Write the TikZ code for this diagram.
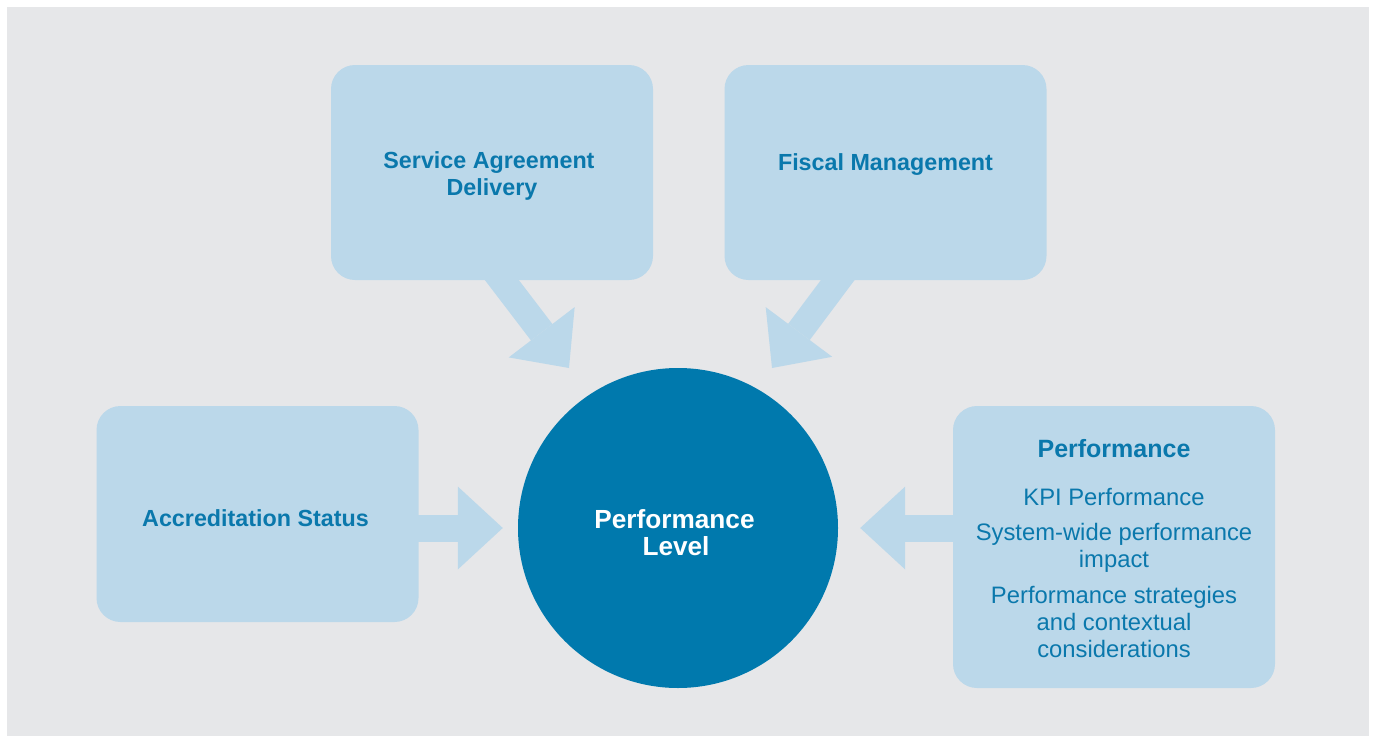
\documentclass[tikz,border=0pt]{standalone}
\usepackage{fontspec}
\setmainfont{Liberation Sans}
\usetikzlibrary{arrows.meta}
\pgfdeclarelayer{bglayer}
\pgfdeclarelayer{arrowlayer}
\pgfsetlayers{bglayer,arrowlayer,main}
\definecolor{bgray}{HTML}{E6E7E9}
\definecolor{lblue}{HTML}{BBD8EA}
\definecolor{dblue}{HTML}{0079AD}
\definecolor{tblue}{HTML}{0A78AC}
\begin{document}
\begin{tikzpicture}[x=1pt,y=-1pt,
  box/.style={rectangle, rounded corners=24pt, fill=lblue, inner sep=0pt, minimum width=322pt},
  head/.style={font=\fontsize{23.3}{28}\selectfont\bfseries, text=tblue, anchor=base, inner sep=0pt},
  whitehead/.style={font=\fontsize{26.2}{30}\selectfont\bfseries, text=white, anchor=base, inner sep=0pt},
  body/.style={font=\fontsize{23.8}{27}\selectfont, text=tblue, anchor=base, inner sep=0pt},
  flow/.style={line width=27pt, draw=lblue, -{Triangle[width=83pt,length=45pt,line width=0pt,fill=lblue]}}]
\useasboundingbox (0,0) rectangle (1374,736);
\begin{pgfonlayer}{bglayer}
\fill[bgray] (7,7) rectangle (1369,736);
\end{pgfonlayer}

% boxes
\node[box, minimum height=215pt] (sad) at (492,172.5) {};
\node[box, minimum height=215pt] (fm) at (885.5,172.5) {};
\node[box, minimum height=216pt] (acc) at (257.5,514) {};
\node[box, minimum height=282pt] (perf) at (1114,547) {};
\node[circle, fill=dblue, minimum size=320pt, inner sep=0pt] (circ) at (678,528) {};

% texts
\node[head] (sad1) at (489,168) {Service Agreement};
\node[head] (sad2) at (492,195) {Delivery};
\node[head] (fm1) at (885.5,170) {Fiscal Management};
\node[head] (acc1) at (255.5,526) {Accreditation Status};
\node[whitehead] (pl1) at (674.5,528) {Performance};
\node[whitehead] (pl2) at (676,555) {Level};
\node[head, font=\fontsize{25}{29}\selectfont\bfseries] (ph) at (1114,457) {Performance};
\node[body] (p1) at (1114,505) {KPI Performance};
\node[body] (p2) at (1114,540) {System-wide performance};
\node[body] (p3) at (1114,567) {impact};
\node[body] (p4) at (1114,603) {Performance strategies};
\node[body] (p5) at (1114,630) {and contextual};
\node[body] (p6) at (1114,657) {considerations};

% connectors
\coordinate (sadtail) at (493.4,269);
\coordinate (sadtip) at (569,368);
\coordinate (fmtail) at (846,269);
\coordinate (fmtip) at (772,368);
\begin{pgfonlayer}{arrowlayer}
\draw[flow] (sadtail) -- (sadtip);
\draw[flow] (fmtail) -- (fmtip);
\draw[flow, shorten <=-6pt, shorten >=15pt] (acc.east |- circ.west) -- (circ.west);
\draw[flow, shorten <=-6pt, shorten >=22pt] (perf.west |- circ.east) -- (circ.east);
\end{pgfonlayer}
\end{tikzpicture}
\end{document}
